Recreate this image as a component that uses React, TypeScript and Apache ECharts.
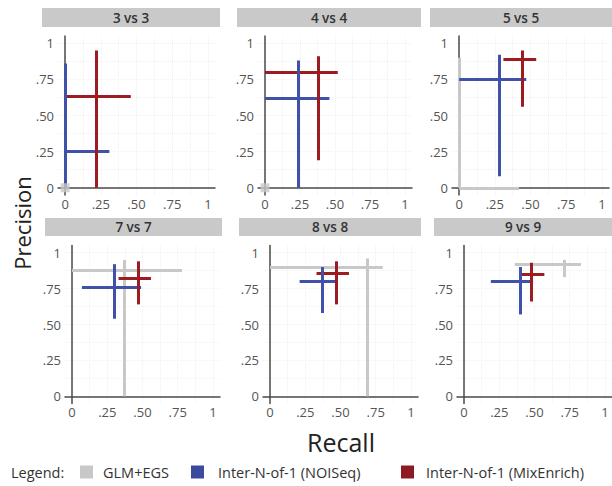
import React, { useEffect, useRef } from "react";
import * as echarts from "echarts";

const panels = ["3 vs 3", "4 vs 4", "5 vs 5", "7 vs 7", "8 vs 8", "9 vs 9"];
const methods = ["GLM+EGS", "Inter-N-of-1 (NOISeq)", "Inter-N-of-1 (MixEnrich)"];
const tickValues = [0, 0.25, 0.5, 0.75, 1];
const gridValues = [0, 0.125, 0.25, 0.375, 0.5, 0.625, 0.75, 0.875, 1];

// GLM+EGS
const glmRecall = [0, 0, 0, 0.37, 0.69, 0.71];
const glmRecallLo = [0, 0, 0, 0, 0, 0.36];
const glmRecallHi = [0, 0, 0.42, 0.78, 0.8, 0.83];
const glmPrec = [0, 0, 0, 0.88, 0.9, 0.92];
const glmPrecLo = [0, 0, 0, 0, 0, 0.83];
const glmPrecHi = [0, 0, 0.9, 0.95, 0.96, 0.95];

// Inter-N-of-1 (NOISeq)
const noiRecall = [0, 0.24, 0.28, 0.3, 0.37, 0.4];
const noiRecallLo = [0, 0, 0, 0.07, 0.21, 0.19];
const noiRecallHi = [0.31, 0.46, 0.47, 0.49, 0.48, 0.49];
const noiPrec = [0.25, 0.62, 0.75, 0.76, 0.8, 0.8];
const noiPrecLo = [0, 0, 0.08, 0.54, 0.58, 0.57];
const noiPrecHi = [0.86, 0.88, 0.92, 0.92, 0.9, 0.9];

// Inter-N-of-1 (MixEnrich)
const mixRecall = [0.22, 0.38, 0.44, 0.47, 0.47, 0.48];
const mixRecallLo = [0, 0, 0.31, 0.33, 0.33, 0.41];
const mixRecallHi = [0.46, 0.52, 0.54, 0.56, 0.56, 0.57];
const mixPrec = [0.63, 0.8, 0.89, 0.82, 0.86, 0.85];
const mixPrecLo = [0, 0.19, 0.56, 0.64, 0.64, 0.66];
const mixPrecHi = [0.95, 0.91, 0.95, 0.94, 0.94, 0.93];

const colors = ["#c8c8c8", "#3f51a8", "#9c1c22"];
const legendColors = ["#c8c8c8", "#3a4b9e", "#8c1a20"];

// layout (pixels)
const gridBoxes = [
  { left: 58, top: 36, width: 157, height: 159 },
  { left: 258, top: 36, width: 154, height: 159 },
  { left: 452, top: 36, width: 157, height: 159 },
  { left: 65, top: 245.5, width: 155, height: 158 },
  { left: 263, top: 245.5, width: 155, height: 158 },
  { left: 457, top: 245.5, width: 155, height: 158 },
];
const strips = [
  { x: 42, y: 8, w: 178, h: 19 },
  { x: 237, y: 8, w: 184, h: 19 },
  { x: 430, y: 8, w: 182, h: 19 },
  { x: 45, y: 218, w: 177, h: 18 },
  { x: 239, y: 218, w: 182, h: 18 },
  { x: 434, y: 218, w: 178, h: 18 },
];

const FONT = "'Open Sans', 'Noto Sans', sans-serif";

const fmt = (v: number) => {
  if (v === 0) return "0";
  if (v === 1) return "1";
  return v.toFixed(2).replace(/^0/, "");
};

export default function App() {
  const ref = useRef<HTMLDivElement>(null);
  useEffect(() => {
    if (!ref.current) return;
    const chart = echarts.init(ref.current, null, { renderer: "svg" });

    const all = [
      { r: glmRecall, rl: glmRecallLo, rh: glmRecallHi, p: glmPrec, pl: glmPrecLo, ph: glmPrecHi },
      { r: noiRecall, rl: noiRecallLo, rh: noiRecallHi, p: noiPrec, pl: noiPrecLo, ph: noiPrecHi },
      { r: mixRecall, rl: mixRecallLo, rh: mixRecallHi, p: mixPrec, pl: mixPrecLo, ph: mixPrecHi },
    ];

    const grids = gridBoxes.map((g) => ({ ...g, containLabel: false }));
    const mkAxis = (i: number, margin: number) => ({
      type: "value",
      gridIndex: i,
      min: -0.05,
      max: 1.05,
      axisLine: { show: true, lineStyle: { color: "#4a4a4a", width: 1.5 } },
      axisTick: { show: false, customValues: gridValues },
      axisLabel: {
        customValues: tickValues,
        formatter: fmt,
        color: "#555",
        fontSize: 13,
        fontFamily: FONT,
        margin,
      },
      splitLine: { show: true, lineStyle: { color: "#f1f1f1", width: 1, type: "dotted" } },
    });
    const xAxes = panels.map((_, i) => mkAxis(i, 2));
    const yAxes = panels.map((_, i) => mkAxis(i, 4));

    const series: any[] = [];
    panels.forEach((_, i) => {
      const data: any[] = [];
      const points: any[] = [];
      const order: [number, "h" | "v"][] = [
        [0, "h"],
        [0, "v"],
        [1, "h"],
        [2, "h"],
        [1, "v"],
        [2, "v"],
      ];
      order.forEach(([m, o]) => {
        const s = all[m];
        if (o === "h") {
          if (s.rh[i] > s.rl[i])
            data.push({
              coords: [
                [s.rl[i], s.p[i]],
                [s.rh[i], s.p[i]],
              ],
              lineStyle: { color: colors[m] },
            });
        } else {
          if (s.ph[i] > s.pl[i])
            data.push({
              coords: [
                [s.r[i], s.pl[i]],
                [s.r[i], s.ph[i]],
              ],
              lineStyle: { color: colors[m] },
            });
        }
      });
      all.forEach((s, m) => {
        if (s.rh[i] === s.rl[i] && s.ph[i] === s.pl[i]) {
          points.push({ value: [s.r[i], s.p[i]], itemStyle: { color: colors[m] } });
        }
      });
      series.push({
        type: "lines",
        coordinateSystem: "cartesian2d",
        xAxisIndex: i,
        yAxisIndex: i,
        polyline: false,
        symbol: "none",
        lineStyle: { width: 3, opacity: 1, cap: "butt" },
        data,
        silent: true,
        z: 3,
      });
      if (points.length)
        series.push({
          type: "scatter",
          xAxisIndex: i,
          yAxisIndex: i,
          symbol: "rect",
          symbolSize: 9,
          data: points,
          silent: true,
          z: 4,
        });
    });

    const graphic: any[] = [];
    strips.forEach((s, i) => {
      graphic.push({
        type: "rect",
        shape: { x: s.x, y: s.y, width: s.w, height: s.h },
        style: { fill: "#c9c9c9" },
        silent: true,
      });
      graphic.push({
        type: "text",
        x: s.x + s.w / 2,
        y: s.y + s.h / 2,
        style: {
          text: panels[i],
          fill: "#333",
          font: `600 13.5px ${FONT}`,
          textAlign: "center",
          textVerticalAlign: "middle",
        },
        silent: true,
      });
    });
    graphic.push({
      type: "text",
      x: 22,
      y: 223,
      rotation: Math.PI / 2,
      style: {
        text: "Precision",
        fill: "#222",
        font: `22px ${FONT}`,
        textAlign: "center",
        textVerticalAlign: "middle",
      },
    });
    graphic.push({
      type: "text",
      x: 341,
      y: 442,
      style: {
        text: "Recall",
        fill: "#222",
        font: `25px ${FONT}`,
        textAlign: "center",
        textVerticalAlign: "middle",
      },
    });
    graphic.push({
      type: "text",
      x: 11,
      y: 472,
      style: { text: "Legend:", fill: "#333", font: `14.5px ${FONT}`, textVerticalAlign: "middle" },
    });
    const legendSq = [80, 191, 401];
    const legendTx = [103, 218, 426];
    methods.forEach((name, m) => {
      graphic.push({
        type: "rect",
        shape: { x: legendSq[m], y: 465.5, width: 13, height: 13 },
        style: { fill: legendColors[m] },
      });
      graphic.push({
        type: "text",
        x: legendTx[m],
        y: 472,
        style: { text: name, fill: "#333", font: `14.5px ${FONT}`, textVerticalAlign: "middle" },
      });
    });

    chart.setOption({
      animation: false,
      backgroundColor: "#ffffff",
      grid: grids,
      xAxis: xAxes,
      yAxis: yAxes,
      series,
      graphic,
    });
    return () => chart.dispose();
  }, []);
  return (
    <div
      ref={ref}
      style={{ position: "fixed", left: 0, top: 0, width: 612, height: 486 }}
    />
  );
}
